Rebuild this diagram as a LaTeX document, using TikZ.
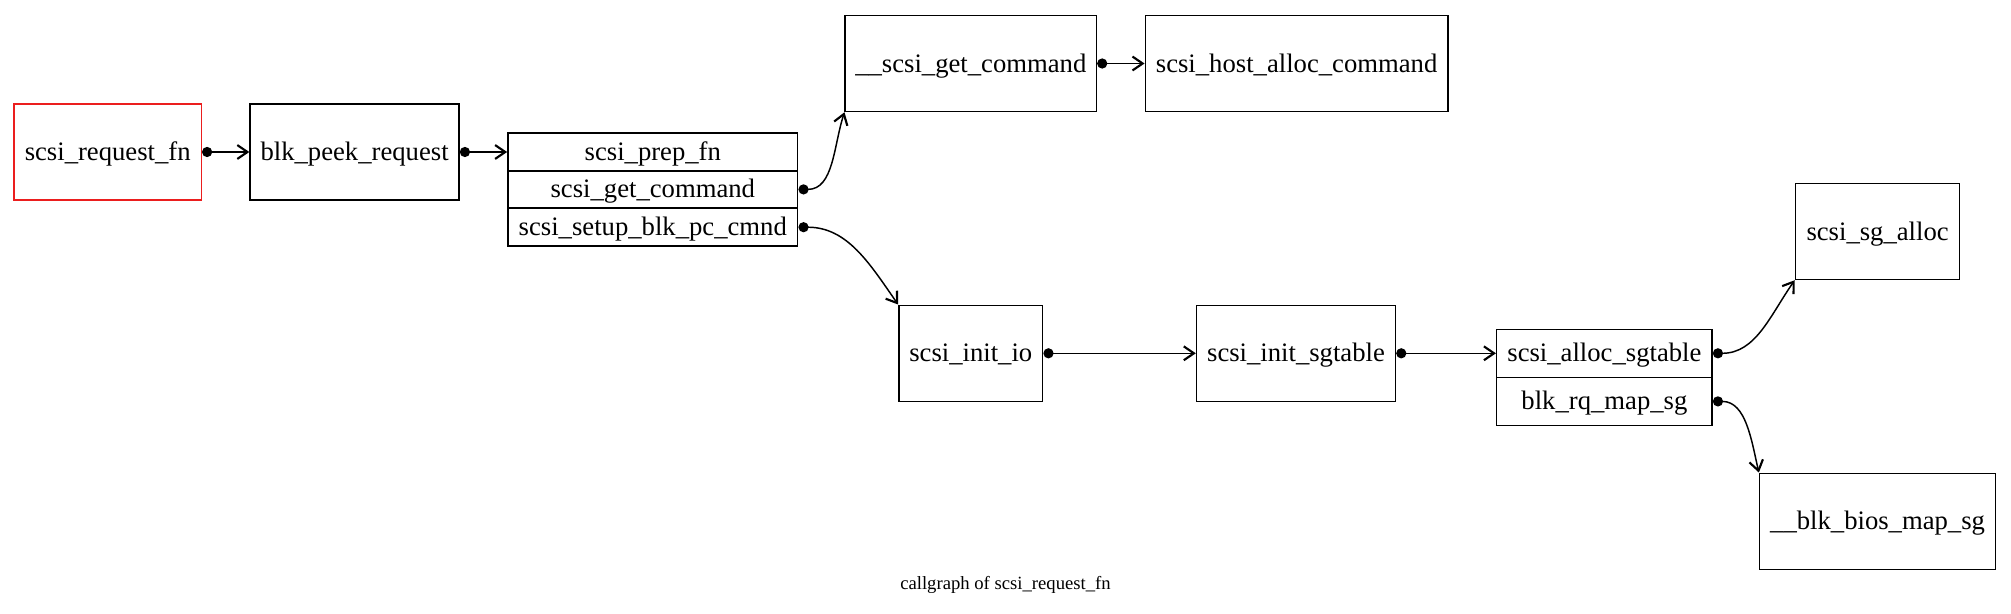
\documentclass[tikz,border=0pt]{standalone}
\usepackage{fontspec}
\setmainfont{Liberation Serif}
\usetikzlibrary{arrows.meta}
\definecolor{rootred}{RGB}{235,30,30}

\begin{document}
\begin{tikzpicture}[x=0.375pt,y=-0.375pt,
  fn/.style={draw,line width=0.55pt,inner sep=0pt,minimum height=36pt,
    text height=6.9pt,text depth=0.5pt,font=\fontsize{10}{12}\selectfont},
  field/.style={fn,minimum height=14.1pt},
  wfield/.style={fn,minimum height=18pt},
  call/.style={line width=0.55pt,
    {Circle[length=3.8pt]}-{Straight Barb[length=3.8pt,width=5.2pt,line width=0.8pt]}}]
  \useasboundingbox (0,0) rectangle (2011,614);
  % functions
  \node[fn,draw=rootred,minimum width=70.2pt] (reqfn) at (107.7,152) {scsi\_request\_fn};
  \node[fn,minimum width=78.4pt] (peek) at (354.6,152) {blk\_peek\_request};
  \node[field,minimum width=108.7pt] (prep) at (652.8,152) {scsi\_prep\_fn};
  \node[field,minimum width=108.7pt] (getcmd) at (652.8,189.4) {scsi\_get\_command};
  \node[field,minimum width=108.7pt] (setup) at (652.8,227.2) {scsi\_setup\_blk\_pc\_cmnd};
  \node[fn,minimum width=94.2pt] (rawget) at (970.8,63.5) {\_\_scsi\_get\_command};
  \node[fn,minimum width=113.5pt] (hostalloc) at (1296.6,63.5) {scsi\_host\_alloc\_command};
  \node[fn,minimum width=53.9pt] (initio) at (970.8,353.3) {scsi\_init\_io};
  \node[fn,minimum width=74.6pt] (initsg) at (1296,353.3) {scsi\_init\_sgtable};
  \node[wfield,minimum width=80.8pt] (allocsg) at (1604.4,353.3) {scsi\_alloc\_sgtable};
  \node[wfield,minimum width=80.8pt] (mapsg) at (1604.4,401.4) {blk\_rq\_map\_sg};
  \node[fn,minimum width=61.6pt] (sgalloc) at (1877.6,231.5) {scsi\_sg\_alloc};
  \node[fn,minimum width=88.5pt] (biosmap) at (1877.6,521.3) {\_\_blk\_bios\_map\_sg};
  % calls
  \draw[call] (reqfn.east) -- (peek.west);
  \draw[call] (peek.east) -- (prep.west);
  \draw[call] (getcmd.east) to[out=0,in=-108] (rawget.south west);
  \draw[call] (setup.east) to[out=0,in=125] (initio.north west);
  \draw[call] (rawget.east) -- (hostalloc.west);
  \draw[call] (initio.east) -- (initsg.west);
  \draw[call] (initsg.east) -- (allocsg.west);
  \draw[call] (allocsg.east) to[out=0,in=-125] (sgalloc.south west);
  \draw[call] (mapsg.east) to[out=0,in=103] (biosmap.north west);
  \node[font=\fontsize{7}{8}\selectfont] (caption) at (1005.5,585) {callgraph of scsi\_request\_fn};
\end{tikzpicture}
\end{document}
